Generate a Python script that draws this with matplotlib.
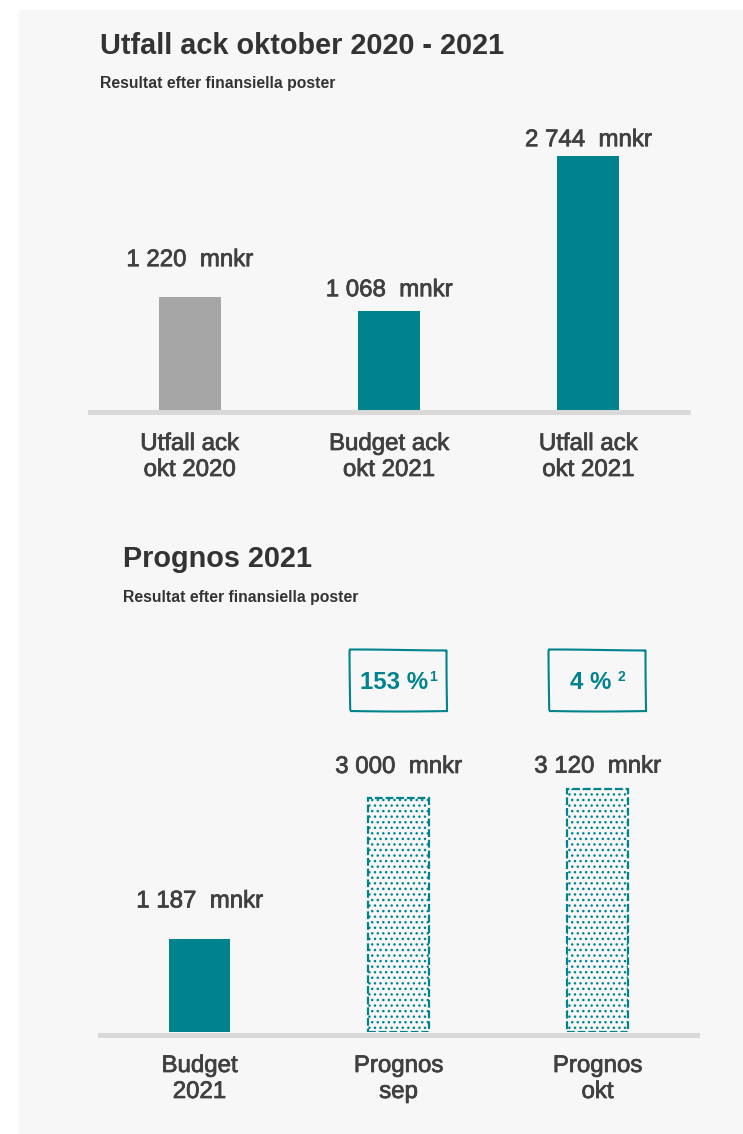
import matplotlib
matplotlib.use("Agg")
import matplotlib.pyplot as plt
import matplotlib.patheffects as pe
from matplotlib.patches import Rectangle

# =====================================================
# DATA
# =====================================================

top_categories = ["Utfall ack\nokt 2020", "Budget ack\nokt 2021", "Utfall ack\nokt 2021"]
top_values = [1220, 1068, 2744]

bottom_categories = ["Budget\n2021", "Prognos\nsep", "Prognos\nokt"]
bottom_values = [1187, 3000, 3120]
bottom_is_forecast = [False, True, True]

# change boxes above the forecast bars
change_positions = [1, 2]
change_texts = ["153 %", "4 %"]
change_notes = ["1", "2"]

unit = "mnkr"

# =====================================================
# STYLE
# =====================================================

W, H = 743, 1134
BG = "#F7F7F7"
TEAL = "#00838C"
GREY_BAR = "#A6A6A6"
BASE = "#D9D9D9"
TXT = "#404040"
TITLE = "#333333"

plt.rcParams["font.family"] = ["Liberation Sans", "DejaVu Sans"]
plt.rcParams["hatch.linewidth"] = 1.0

# labels in the reference are a bit heavier than plain regular
heavy = [pe.withStroke(linewidth=0.55, foreground=TXT)]


def fx(px):
    return px / W


def fy(py):
    return 1 - py / H


def fmt(v):
    return f"{v:,}".replace(",", " ") + "  " + unit


fig = plt.figure(figsize=(W / 100, H / 100), dpi=100)
fig.patch.set_facecolor("white")
fig.add_artist(Rectangle((fx(19), 0), 1 - fx(19), fy(10),
                         transform=fig.transFigure, color=BG, zorder=0))

# titles
fig.text(fx(100), fy(54), "Utfall ack oktober 2020 - 2021", fontsize=20.8,
         fontweight="bold", color=TITLE, va="baseline")
fig.text(fx(100), fy(88), "Resultat efter finansiella poster", fontsize=11.3,
         fontweight="bold", color=TITLE, va="baseline")
fig.text(fx(123), fy(567), "Prognos 2021", fontsize=20.8,
         fontweight="bold", color=TITLE, va="baseline")
fig.text(fx(123), fy(602), "Resultat efter finansiella poster", fontsize=11.3,
         fontweight="bold", color=TITLE, va="baseline")


def setup_axes(ax, k, categories):
    ax.set_xlim(-0.5, 2.5)
    ax.axis("off")
    # thick grey baseline, sitting just under the bars
    ax.axhline(-2.5 / k, color=BASE, lw=3.6, clip_on=False, zorder=3)
    for i, cat in enumerate(categories):
        for j, line in enumerate(cat.split("\n")):
            ax.annotate(line, xy=(i, 0), xytext=(0, -(40 + 26 * j)),
                        textcoords="offset pixels", ha="center", va="baseline",
                        fontsize=17.3, color=TXT, annotation_clip=False,
                        path_effects=heavy)


# =====================================================
# 1. UTFALL ACK OKTOBER
# =====================================================

k1 = 0.0925  # px per mnkr
ax1 = fig.add_axes([fx(90), fy(410), fx(688) - fx(90), (410 - 110) / H])
ax1.set_ylim(0, 300 / k1)
setup_axes(ax1, k1, top_categories)

top_colors = [GREY_BAR, TEAL, TEAL]
top_pads = [31, 15, 10]
ax1.bar(range(len(top_values)), top_values, width=0.31, color=top_colors, zorder=2)
for i, v in enumerate(top_values):
    ax1.annotate(fmt(v), xy=(i, v), xytext=(0, top_pads[i]),
                 textcoords="offset pixels", ha="center", va="baseline",
                 fontsize=17.3, color=TXT, annotation_clip=False,
                 path_effects=heavy)

# =====================================================
# 2. PROGNOS 2021
# =====================================================

k2 = 0.078
ax2 = fig.add_axes([fx(100), fy(1032), fx(697) - fx(100), (1032 - 630) / H])
ax2.set_ylim(0, 402 / k2)
setup_axes(ax2, k2, bottom_categories)

bottom_pads = [32, 25, 16]
for i, v in enumerate(bottom_values):
    if bottom_is_forecast[i]:
        ax2.bar(i, v, width=0.31, facecolor="none", edgecolor=TEAL,
                hatch="...", lw=1.6, linestyle=(0, (3.5, 1.3)), zorder=2)
    else:
        ax2.bar(i, v, width=0.31, color=TEAL, zorder=2)
    ax2.annotate(fmt(v), xy=(i, v), xytext=(0, bottom_pads[i]),
                 textcoords="offset pixels", ha="center", va="baseline",
                 fontsize=17.3, color=TXT, annotation_clip=False,
                 path_effects=heavy)

# change boxes
renderer = fig.canvas.get_renderer()
note_gaps = [1, 6]
for n, pos in enumerate(change_positions):
    cx = 100 + (pos + 0.5) * (697 - 100) / 3
    box = Rectangle((fx(cx - 48.5), fy(711)), 97 / W, 61 / H,
                    transform=fig.transFigure, facecolor="none",
                    edgecolor=TEAL, lw=1.5, zorder=4)
    box.set_sketch_params(scale=0.5, length=200, randomness=1)
    fig.add_artist(box)

    main = fig.text(0, fy(689), change_texts[n], fontsize=17.3,
                    fontweight="bold", color=TEAL, va="baseline")
    note = fig.text(0, fy(681), change_notes[n], fontsize=10,
                    fontweight="bold", color=TEAL, va="baseline")
    w_main = main.get_window_extent(renderer).width
    w_note = note.get_window_extent(renderer).width
    x0 = cx - (w_main + note_gaps[n] + w_note) / 2
    main.set_x(fx(x0))
    note.set_x(fx(x0 + w_main + note_gaps[n]))

fig.savefig("out.png", dpi=100, facecolor=fig.get_facecolor())
